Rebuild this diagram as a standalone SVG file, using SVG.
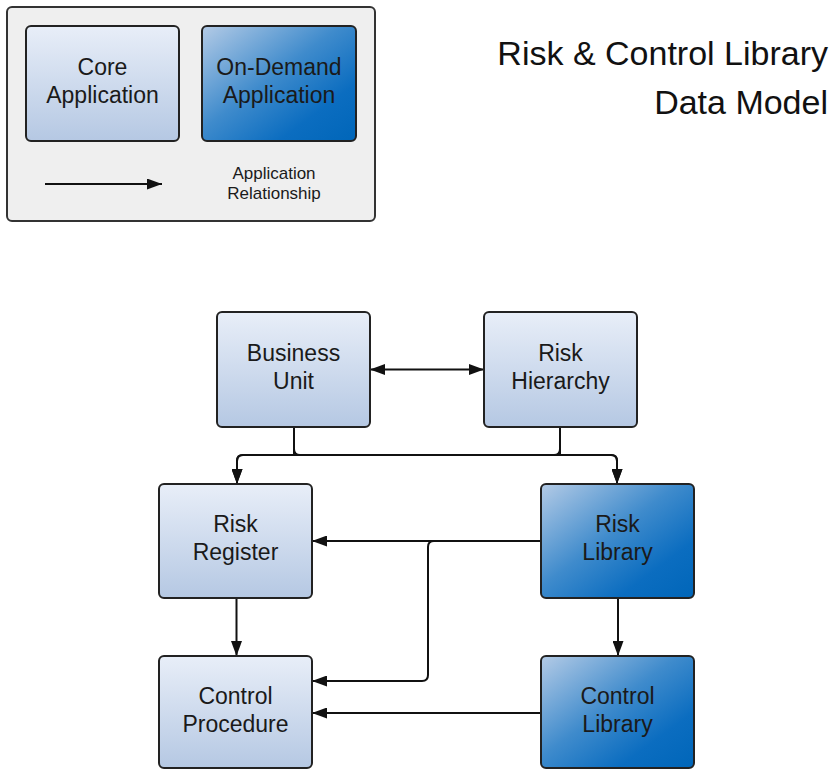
<svg xmlns="http://www.w3.org/2000/svg" width="830" height="769" viewBox="0 0 830 769">
<defs>
<linearGradient id="core" x1="0" y1="0" x2="0" y2="1">
<stop offset="0" stop-color="#e8eef8"/>
<stop offset="1" stop-color="#b5c8e3"/>
</linearGradient>
<linearGradient id="od" x1="0" y1="0" x2="1" y2="1">
<stop offset="0" stop-color="#b4cbe6"/>
<stop offset="0.45" stop-color="#3f8bcc"/>
<stop offset="0.75" stop-color="#0b6dc0"/>
<stop offset="1" stop-color="#0066b9"/>
</linearGradient>
<marker id="arr" viewBox="0 0 15 11" refX="15" refY="5.5" markerWidth="15" markerHeight="11" markerUnits="userSpaceOnUse" orient="auto-start-reverse">
<path d="M0,0 L15,5.5 L0,11 Z" fill="#111"/>
</marker>
</defs>
<style>
.box{stroke:#222;stroke-width:2}
.core{fill:url(#core)}
.od{fill:url(#od)}
.t{font-family:"Liberation Sans",Arial,sans-serif;font-size:23px;fill:#1a1a1a;text-anchor:middle}
.s{font-family:"Liberation Sans",Arial,sans-serif;font-size:17px;fill:#1a1a1a;text-anchor:middle}
.title{font-family:"Liberation Sans",Arial,sans-serif;font-size:34px;fill:#111;text-anchor:end}
.c{fill:none;stroke:#111;stroke-width:2}
</style>
<g id="legend">
<rect x="7" y="7" width="368" height="214" rx="5" fill="#efefef" stroke="#333" stroke-width="2"/>
<g id="legend-core">
<rect class="box core" x="26" y="26" width="153" height="115" rx="5"/>
<text class="t" x="102.5" y="75">Core</text>
<text class="t" x="102.5" y="103">Application</text>
</g>
<g id="legend-ondemand">
<rect class="box od" x="202" y="26" width="154" height="115" rx="5"/>
<text class="t" x="279" y="75">On-Demand</text>
<text class="t" x="279" y="103">Application</text>
</g>
<line class="c" x1="45" y1="184" x2="162" y2="184" marker-end="url(#arr)"/>
<text class="s" x="274" y="179">Application</text>
<text class="s" x="274" y="199">Relationship</text>
</g>
<g id="title">
<text class="title" x="828" y="65">Risk &amp; Control Library</text>
<text class="title" x="828" y="114">Data Model</text>
</g>
<g id="connectors">
<line class="c" x1="370" y1="369.5" x2="484" y2="369.5" marker-start="url(#arr)" marker-end="url(#arr)"/>
<path class="c" d="M294 427 V455 H243 Q237 455 237 461 V484" marker-end="url(#arr)"/>
<path class="c" d="M294 427 V449 Q294 455 300 455 H611 Q617 455 617 461 V484" marker-end="url(#arr)"/>
<path class="c" d="M560 427 V449 Q560 455 554 455 H243 Q237 455 237 461 V484" marker-end="url(#arr)"/>
<path class="c" d="M560 427 V455 H611 Q617 455 617 461 V484" marker-end="url(#arr)"/>
<line class="c" x1="541" y1="541" x2="312" y2="541" marker-end="url(#arr)"/>
<path class="c" d="M541 541 H434 Q428 541 428 547 V675 Q428 681 422 681 H312" marker-end="url(#arr)"/>
<line class="c" x1="236.5" y1="598" x2="236.5" y2="656" marker-end="url(#arr)"/>
<line class="c" x1="618" y1="598" x2="618" y2="656" marker-end="url(#arr)"/>
<line class="c" x1="541" y1="713" x2="312" y2="713" marker-end="url(#arr)"/>
</g>
<g id="business-unit">
<rect class="box core" x="217" y="312" width="153" height="115" rx="5"/>
<text class="t" x="293.5" y="361">Business</text>
<text class="t" x="293.5" y="389">Unit</text>
</g>
<g id="risk-hierarchy">
<rect class="box core" x="484" y="312" width="153" height="115" rx="5"/>
<text class="t" x="560.5" y="361">Risk</text>
<text class="t" x="560.5" y="389">Hierarchy</text>
</g>
<g id="risk-register">
<rect class="box core" x="159" y="484" width="153" height="114" rx="5"/>
<text class="t" x="235.5" y="532">Risk</text>
<text class="t" x="235.5" y="560">Register</text>
</g>
<g id="risk-library">
<rect class="box od" x="541" y="484" width="153" height="114" rx="5"/>
<text class="t" x="617.5" y="532">Risk</text>
<text class="t" x="617.5" y="560">Library</text>
</g>
<g id="control-procedure">
<rect class="box core" x="159" y="656" width="153" height="112" rx="5"/>
<text class="t" x="235.5" y="704">Control</text>
<text class="t" x="235.5" y="732">Procedure</text>
</g>
<g id="control-library">
<rect class="box od" x="541" y="656" width="153" height="112" rx="5"/>
<text class="t" x="617.5" y="704">Control</text>
<text class="t" x="617.5" y="732">Library</text>
</g>
</svg>
